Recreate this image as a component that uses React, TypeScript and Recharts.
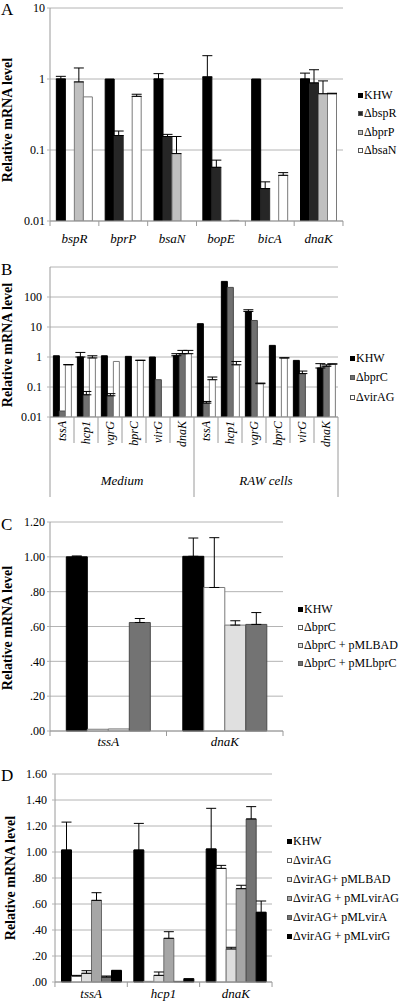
import React from "react"
import { BarChart, Bar, XAxis, YAxis, CartesianGrid, ErrorBar } from "recharts"

const SERIF = "'Liberation Serif', 'Times New Roman', serif"
const GRID = "#b4b4b4"
const AXIS = "#9a9a9a"

// ---- Panel A (log scale) ----
const aGenes = ["bspR", "bprP", "bsaN", "bopE", "bicA", "dnaK"]
const aNames = ["KHW", "ΔbspR", "ΔbprP", "ΔbsaN"]
const aKHW = [1.0, 1.0, 1.0, 1.07, 1.0, 1.0]
const aKHWErr = [0.09, null, 0.19, 1.06, null, 0.21]
const aBspR = [null, 0.16, 0.155, 0.057, 0.0286, 0.88]
const aBspRErr = [null, 0.025, 0.011, 0.015, 0.007, 0.47]
const aBprP = [0.91, null, 0.089, null, null, 0.62]
const aBprPErr = [0.52, null, 0.066, null, null, 0.32]
const aBsaN = [0.56, 0.57, null, 0.0102, 0.044, 0.62]
const aBsaNErr = [null, 0.04, null, null, 0.004, 0.01]
const aTicks = [0.01, 0.1, 1, 10]

// ---- Panel B (log scale, two groups) ----
const bGenes = ["tssA", "hcp1", "vgrG", "bprC", "virG", "dnaK", "tssA", "hcp1", "vgrG", "bprC", "virG", "dnaK"]
const bGroups = ["Medium", "RAW cells"]
const bNames = ["KHW", "ΔbprC", "ΔvirAG"]
const bKHW = [1.1, 1.0, 1.1, 1.05, 1.0, 1.1, 12.9, 331, 33, 2.44, 0.77, 0.43]
const bKHWErr = [null, 0.42, null, null, null, 0.19, null, null, 4.6, null, null, 0.17]
const bBprC = [0.0158, 0.055, 0.051, null, 0.175, 1.29, 0.029, 209, 16.5, null, 0.28, 0.49]
const bBprCErr = [null, 0.016, 0.009, null, null, 0.37, 0.004, null, null, null, 0.06, 0.06]
const bVirAG = [0.55, 0.93, 0.71, 0.77, null, 1.29, 0.175, 0.55, 0.129, 0.93, null, 0.58]
const bVirAGErr = [0.01, 0.17, null, 0.01, null, 0.37, 0.04, 0.16, 0.006, 0.01, null, 0.01]
const bTicks = [0.01, 0.1, 1, 10, 100]

// ---- Panel C ----
const cGenes = ["tssA", "dnaK"]
const cNames = ["KHW", "ΔbprC", "ΔbprC + pMLBAD", "ΔbprC + pMLbprC"]
const cKHW = [1.0, 1.003]
const cKHWErr = [0.005, 0.105]
const cBprC = [0.01, 0.824]
const cBprCErr = [null, 0.286]
const cBAD = [0.012, 0.608]
const cBADErr = [null, 0.025]
const cComp = [0.623, 0.612]
const cCompErr = [0.023, 0.068]
const cTicks = [0, 0.2, 0.4, 0.6, 0.8, 1.0, 1.2]

// ---- Panel D ----
const dGenes = ["tssA", "hcp1", "dnaK"]
const dNames = ["KHW", "ΔvirAG", "ΔvirAG+ pMLBAD", "ΔvirAG + pMLvirAG", "ΔvirAG+ pMLvirA", "ΔvirAG + pMLvirG"]
const dKHW = [1.015, 1.015, 1.023]
const dKHWErr = [0.215, 0.205, 0.313]
const dVirAG = [0.046, 0.005, 0.874]
const dVirAGErr = [0.005, null, 0.023]
const dBAD = [0.067, 0.051, 0.254]
const dBADErr = [0.02, 0.026, 0.013]
const dVirAGc = [0.628, 0.336, 0.718]
const dVirAGcErr = [0.059, 0.051, 0.026]
const dVirA = [0.038, 0.005, 1.254]
const dVirAErr = [0.008, null, 0.095]
const dVirG = [0.087, 0.026, 0.536]
const dVirGErr = [0.003, null, 0.087]
const dTicks = [0, 0.2, 0.4, 0.6, 0.8, 1.0, 1.2, 1.4, 1.6]

type Style = { fill: string; stroke: string }

const aStyles: Style[] = [
  { fill: "#000", stroke: "#000" },
  { fill: "#262626", stroke: "#262626" },
  { fill: "#c0c0c0", stroke: "#7a7a7a" },
  { fill: "#fff", stroke: "#7a7a7a" },
]
const bStyles: Style[] = [
  { fill: "#000", stroke: "#000" },
  { fill: "#707070", stroke: "#4a4a4a" },
  { fill: "#fff", stroke: "#7a7a7a" },
]
const cStyles: Style[] = [
  { fill: "#000", stroke: "#000" },
  { fill: "#fff", stroke: "#7a7a7a" },
  { fill: "#e0e0e0", stroke: "#7a7a7a" },
  { fill: "#737373", stroke: "#4a4a4a" },
]
const dStyles: Style[] = [
  { fill: "#000", stroke: "#000" },
  { fill: "#fff", stroke: "#7a7a7a" },
  { fill: "#dedede", stroke: "#7a7a7a" },
  { fill: "#a6a6a6", stroke: "#6a6a6a" },
  { fill: "#737373", stroke: "#4a4a4a" },
  { fill: "#000", stroke: "#000" },
]

function buildRows(genes: string[], vals: (number | null)[][], errs: (number | null)[][]) {
  return genes.map((g, i) => {
    // eslint-disable-next-line @typescript-eslint/no-explicit-any
    const row: any = { gene: g, idx: i }
    vals.forEach((v, k) => {
      row[`s${k}`] = v[i]
      const e = errs[k][i]
      row[`e${k}`] = e != null && v[i] != null ? [0, e] : undefined
    })
    return row
  })
}

const aRows = buildRows(aGenes, [aKHW, aBspR, aBprP, aBsaN], [aKHWErr, aBspRErr, aBprPErr, aBsaNErr])
const bRows = buildRows(bGenes, [bKHW, bBprC, bVirAG], [bKHWErr, bBprCErr, bVirAGErr])
const cRows = buildRows(cGenes, [cKHW, cBprC, cBAD, cComp], [cKHWErr, cBprCErr, cBADErr, cCompErr])
const dRows = buildRows(dGenes, [dKHW, dVirAG, dBAD, dVirAGc, dVirA, dVirG],
  [dKHWErr, dVirAGErr, dBADErr, dVirAGcErr, dVirAErr, dVirGErr])

const fmtDec = (v: number) => {
  const s = v.toFixed(2)
  return s.startsWith("0") ? s.slice(1) : s
}

// simple category tick with boundary marks
function makeCatTick(half: number, n: number, dy: number) {
  // eslint-disable-next-line @typescript-eslint/no-explicit-any
  return function CatTick(props: any) {
    const { x, y, payload, index } = props
    return (
      <g>
        <line x1={x - half} x2={x - half} y1={y} y2={y + 5} stroke={AXIS} />
        {index === n - 1 && <line x1={x + half} x2={x + half} y1={y} y2={y + 5} stroke={AXIS} />}
        <text x={x} y={y + dy} textAnchor="middle" fontStyle="italic" fontSize={13} fontFamily={SERIF} fill="#000">
          {payload.value}
        </text>
      </g>
    )
  }
}

// multi-level tick for panel B
// eslint-disable-next-line @typescript-eslint/no-explicit-any
function BTick(props: any) {
  const { x, y, payload, index } = props
  const half = 12
  const start = index % 6 === 0
  return (
    <g>
      <line x1={x - half} x2={x - half} y1={y} y2={y + (start ? 80 : 26)} stroke={AXIS} />
      {index === bGenes.length - 1 && <line x1={x + half} x2={x + half} y1={y} y2={y + 80} stroke={AXIS} />}
      <text x={x} y={y + 4} transform={`rotate(-90 ${x} ${y + 4})`} textAnchor="end" dominantBaseline="central"
        fontStyle="italic" fontSize={12} fontFamily={SERIF} fill="#000">
        {payload.value}
      </text>
      {index % 6 === 2 && (
        <text x={x + half} y={y + 68} textAnchor="middle" fontStyle="italic" fontSize={13} fontFamily={SERIF} fill="#000">
          {bGroups[Math.floor(index / 6)]}
        </text>
      )}
    </g>
  )
}

function LegendBox({ names, styles, left, top, step }: { names: string[]; styles: Style[]; left: number; top: number; step: number }) {
  return (
    <div style={{ position: "absolute", left, top, fontFamily: SERIF, fontSize: 12, color: "#000" }}>
      {names.map((n, i) => (
        <div key={n} style={{ position: "absolute", top: i * step - 7, left: 0, height: 14, display: "flex", alignItems: "center", whiteSpace: "nowrap" }}>
          <div style={{ width: 5, height: 5, boxSizing: "border-box", background: styles[i].fill, border: `1px solid ${styles[i].stroke === "#000" ? "#000" : "#555"}`, marginRight: 1 }} />
          <span>{n}</span>
        </div>
      ))}
    </div>
  )
}

const tickStyle = { fill: "#000", fontSize: 12, fontFamily: SERIF }

function bars(names: string[], styles: Style[]) {
  return names.map((n, k) => (
    <Bar key={n} dataKey={`s${k}`} name={n} fill={styles[k].fill} stroke={styles[k].stroke} strokeWidth={1} isAnimationActive={false}>
      <ErrorBar dataKey={`e${k}`} width={5} stroke="#000" strokeWidth={1} direction="y" isAnimationActive={false} />
    </Bar>
  ))
}

export default function App() {
  return (
    <div style={{ position: "absolute", left: 0, top: 0, width: 400, height: 1002, background: "#fff", overflow: "hidden" }}>
      {/* A */}
      <div style={{ position: "absolute", left: 0, top: 0 }}>
        <BarChart width={345} height={260} data={aRows} margin={{ top: 8, right: 2, bottom: 9, left: 0 }} barCategoryGap="13%" barGap={0}>
          <CartesianGrid vertical={false} stroke={GRID} />
          <XAxis dataKey="gene" height={30} axisLine={{ stroke: AXIS }} tickLine={false} tickSize={0} tickMargin={0}
            tick={makeCatTick(24.4, aGenes.length, 22)} interval={0} />
          <YAxis width={50} scale="log" type="number" domain={[0.01, 10]} ticks={aTicks} allowDataOverflow
            axisLine={{ stroke: AXIS }} tickLine={{ stroke: GRID }} tickSize={3} tickMargin={2} tick={tickStyle} />
          {bars(aNames, aStyles)}
        </BarChart>
      </div>
      <LegendBox names={aNames} styles={aStyles} left={358} top={95} step={18.5} />

      {/* B */}
      <div style={{ position: "absolute", left: 0, top: 255 }}>
        <BarChart width={340} height={250} data={bRows} margin={{ top: 12, right: 2, bottom: 8, left: 0 }} barCategoryGap="14%" barGap={0}>
          <CartesianGrid vertical={false} stroke={GRID} />
          <XAxis dataKey="gene" height={80} axisLine={{ stroke: AXIS }} tickLine={false} tickSize={0} tickMargin={0}
            tick={BTick} interval={0} />
          <YAxis width={50} scale="log" type="number" domain={[0.01, 1000]} ticks={bTicks} allowDataOverflow
            axisLine={{ stroke: AXIS }} tickLine={{ stroke: GRID }} tickSize={3} tickMargin={5} tick={tickStyle} />
          {bars(bNames, bStyles)}
        </BarChart>
      </div>
      <LegendBox names={bNames} styles={bStyles} left={350} top={358} step={19.5} />

      {/* C */}
      <div style={{ position: "absolute", left: 0, top: 510 }}>
        <BarChart width={285} height={245} data={cRows} margin={{ top: 12, right: 2, bottom: 4, left: 0 }} barCategoryGap="14%" barGap={0}>
          <CartesianGrid vertical={false} stroke={GRID} />
          <XAxis dataKey="gene" height={20} axisLine={{ stroke: AXIS }} tickLine={false} tickSize={0} tickMargin={0}
            tick={makeCatTick(58.25, cGenes.length, 15)} interval={0} />
          <YAxis width={50} type="number" domain={[0, 1.2]} ticks={cTicks} tickFormatter={fmtDec}
            axisLine={{ stroke: AXIS }} tickLine={{ stroke: GRID }} tickSize={3} tickMargin={2} tick={tickStyle} />
          {bars(cNames, cStyles)}
        </BarChart>
      </div>
      <LegendBox names={cNames} styles={cStyles} left={298} top={609} step={18.2} />

      {/* D */}
      <div style={{ position: "absolute", left: 0, top: 760 }}>
        <BarChart width={274} height={242} data={dRows} margin={{ top: 14, right: 2, bottom: 4, left: 0 }} barCategoryGap="9%" barGap={0}>
          <CartesianGrid vertical={false} stroke={GRID} />
          <XAxis dataKey="gene" height={16} axisLine={{ stroke: AXIS }} tickLine={false} tickSize={0} tickMargin={0}
            tick={makeCatTick(36.2, dGenes.length, 16)} interval={0} />
          <YAxis width={55} type="number" domain={[0, 1.6]} ticks={dTicks} tickFormatter={fmtDec}
            axisLine={{ stroke: AXIS }} tickLine={{ stroke: GRID }} tickSize={3} tickMargin={5} tick={tickStyle} />
          {bars(dNames, dStyles)}
        </BarChart>
      </div>
      <LegendBox names={dNames} styles={dStyles} left={287} top={841} step={19} />

      {/* panel letters and axis titles */}
      <svg width={400} height={1002} style={{ position: "absolute", left: 0, top: 0, pointerEvents: "none" }}>
        {[["A", 15], ["B", 275], ["C", 530], ["D", 781]].map(([t, y]) => (
          <text key={t as string} x={1} y={y as number} fontFamily={SERIF} fontSize={17} fill="#000">{t}</text>
        ))}
        {[[7, 120], [7, 345], [7, 628], [10, 878]].map(([x, y], i) => (
          <text key={i} x={x} y={y} transform={`rotate(-90 ${x} ${y})`} textAnchor="middle" dominantBaseline="central"
            fontFamily={SERIF} fontSize={14} fontWeight="bold" fill="#000">Relative mRNA level</text>
        ))}
      </svg>
    </div>
  )
}
